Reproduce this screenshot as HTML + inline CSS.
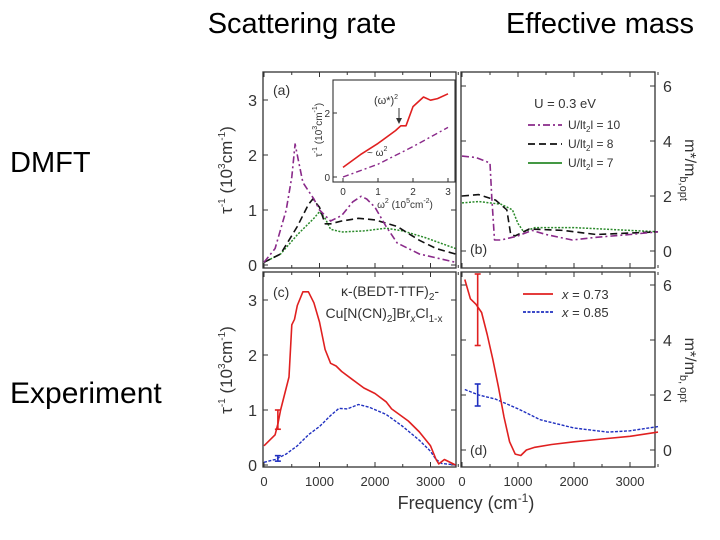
<!DOCTYPE html>
<html><head><meta charset="utf-8"><style>
body{margin:0;background:#fff;}
svg{display:block;font-family:"Liberation Sans",sans-serif;}
</style></head><body>
<svg width="720" height="540" viewBox="0 0 720 540">
<text x="302" y="33" font-size="29" text-anchor="middle">Scattering rate</text>
<text x="600" y="33" font-size="29" text-anchor="middle">Effective mass</text>
<text x="10" y="172" font-size="29">DMFT</text>
<text x="10" y="403" font-size="30">Experiment</text>
<g id="g"></g>
</svg>
<script>
// ---- data ----
const aPurpleX=[0,200,400,500,560,620,700,800,900,1000,1100,1200,1400,1600,1750,1850,2000,2200,2400,2800,3450];
const aPurpleY=[0.05,0.3,1.0,1.6,2.2,1.9,1.5,1.35,1.2,1.0,0.9,0.8,0.9,1.15,1.25,1.2,1.05,0.7,0.4,0.2,0.05];
const aBlackX=[0,300,600,800,880,1000,1100,1200,1400,1700,2000,2400,2800,3100,3450];
const aBlackY=[0.05,0.2,0.7,1.1,1.2,1.05,0.75,0.75,0.8,0.85,0.82,0.7,0.45,0.3,0.2];
const aGreenX=[0,300,600,900,1000,1100,1200,1400,1800,2200,2500,2900,3450];
const aGreenY=[0.05,0.2,0.55,0.85,0.97,0.85,0.65,0.6,0.62,0.67,0.62,0.5,0.3];
const bPurpleX=[0,250,500,530,580,700,1000,1250,1500,1970,2400,3000,3500];
const bPurpleY=[3.45,3.4,3.2,2.0,0.4,0.4,0.55,0.75,0.6,0.4,0.5,0.6,0.7];
const bBlackX=[0,300,600,800,870,950,1200,1800,2400,3500];
const bBlackY=[2.0,2.05,1.85,1.5,0.6,0.55,0.8,0.75,0.6,0.7];
const bGreenX=[0,300,700,900,1000,1100,1300,2000,3500];
const bGreenY=[1.75,1.8,1.7,1.5,1.0,0.7,0.85,0.85,0.7];
const cRedX=[0,200,250,300,400,450,500,550,600,700,800,900,1000,1100,1200,1300,1400,1600,1800,2000,2200,2300,2600,2800,3000,3100,3150,3250,3450];
const cRedY=[0.35,0.55,0.75,1.0,1.4,1.6,2.55,2.65,2.9,3.15,3.15,2.95,2.6,2.1,1.85,1.8,1.7,1.55,1.4,1.3,1.15,1.02,0.8,0.6,0.35,0.1,0.02,0.1,0.0];
const cBlueX=[0,200,400,600,800,1000,1200,1350,1500,1700,1900,2200,2500,2800,3000,3100,3200,3450];
const cBlueY=[0.05,0.1,0.2,0.35,0.55,0.7,0.9,1.03,1.02,1.1,1.05,0.92,0.7,0.45,0.25,0.1,0.03,0.0];
const dRedX=[50,150,250,350,450,550,650,750,850,950,1050,1150,1300,1600,2000,2500,3000,3500];
const dRedY=[6.2,5.5,5.3,5.0,4.2,3.3,2.3,1.2,0.3,-0.15,-0.2,0.0,0.1,0.2,0.3,0.4,0.5,0.65];
const dBlueX=[50,300,600,1000,1400,2000,2600,3000,3500];
const dBlueY=[2.2,2.0,1.85,1.5,1.1,0.8,0.65,0.7,0.85];
const insRedX=[0,0.5,1,1.5,1.65,1.8,2.0,2.3,2.5,2.7,3];
const insRedY=[0.3,0.7,1.05,1.45,1.6,1.6,2.2,2.5,2.4,2.45,2.6];
const insPurpleX=[0,1,2,3];
const insPurpleY=[0,0.4,0.95,1.55];
const freqTicks=[0,1000,2000,3000];
const tauTicks=[0,1,2,3];
const massTicks=[0,2,4,6];
// ---- helpers ----
const NS='http://www.w3.org/2000/svg';
const G=document.getElementById('g');
function el(t,a,p){const e=document.createElementNS(NS,t);for(const k in a)e.setAttribute(k,a[k]);(p||G).appendChild(e);return e;}
function lin(d0,d1,r0,r1){return v=>r0+(v-d0)/(d1-d0)*(r1-r0);}
const xL=lin(0,1000,264,319.5), xR=lin(0,1000,462,518);
const yA=lin(0,1,265,210), yB=lin(0,1,251,223.5), yC=lin(0,1,465,410), yD=lin(0,1,450,422.5);
function line(xs,ys,sx,sy,color,dash,w,name){
  const d=xs.map((x,i)=>(i?'L':'M')+sx(x).toFixed(1)+','+sy(ys[i]).toFixed(1)).join('');
  const p=el('path',{d:d,fill:'none',stroke:color,'stroke-width':w||1.6,'stroke-dasharray':dash||'none','stroke-linejoin':'round'});
  
  
}
function box(x0,y0,x1,y1,name){
  const r=el('rect',{x:x0,y:y0,width:x1-x0,height:y1-y0,fill:'none',stroke:'#333','stroke-width':1.3});
  
  
}
function txt(x,y,s,size,anchor,name,extra){
  const t=el('text',Object.assign({x:x,y:y,'font-size':size,'text-anchor':anchor||'start',fill:'#333'},extra||{}));
  t.innerHTML=s;
  
  
  return t;
}
function xt(sx,yb,yt,labels,ly){
  freqTicks.forEach(v=>{const x=sx(v);el('line',{x1:x,y1:yb,x2:x,y2:yb-5,stroke:'#333'});el('line',{x1:x,y1:yt,x2:x,y2:yt+5,stroke:'#333'});
    const xm=sx(v+500);el('line',{x1:xm,y1:yb,x2:xm,y2:yb-3,stroke:'#333'});el('line',{x1:xm,y1:yt,x2:xm,y2:yt+3,stroke:'#333'});
    if(labels)txt(x,ly,String(v),13,'middle','x-tick-label');});
}
function yt(sy,x0,x1,ticks,side,name){
  ticks.forEach(v=>{const y=sy(v);el('line',{x1:x0,y1:y,x2:x0+5,y2:y,stroke:'#333'});el('line',{x1:x1,y1:y,x2:x1-5,y2:y,stroke:'#333'});
    if(side==='l')txt(x0-6,y+6,String(v),16,'end',name);else txt(x1+8,y+6,String(v),16,'start',name);});
}
// ---- panels ----
box(263,72,456,268,'panel-a'); box(461,72,655,268,'panel-b');
box(263,272,456,467,'panel-c'); box(461,272,655,467,'panel-d');
xt(xL,268,72,false); xt(xR,268,72,false); xt(xL,467,272,true,486); xt(xR,467,272,true,486);
yt(yA,263,456,tauTicks,'l','y-tick-a'); yt(yB,461,655,massTicks,'r','y-tick-b');
yt(yC,263,456,tauTicks,'l','y-tick-c'); yt(yD,461,655,massTicks,'r','y-tick-d');
// labels
txt(232,170,'τ<tspan dy="-7" font-size="10">-1</tspan><tspan dy="7"> (10</tspan><tspan dy="-7" font-size="10">3</tspan><tspan dy="7">cm</tspan><tspan dy="-7" font-size="10">-1</tspan><tspan dy="7">)</tspan>',17,'middle','y-axis-title-top',{transform:'rotate(-90 232 170)'});
txt(232,370,'τ<tspan dy="-7" font-size="10">-1</tspan><tspan dy="7"> (10</tspan><tspan dy="-7" font-size="10">3</tspan><tspan dy="7">cm</tspan><tspan dy="-7" font-size="10">-1</tspan><tspan dy="7">)</tspan>',17,'middle','y-axis-title-bottom',{transform:'rotate(-90 232 370)'});
txt(685,170,'m*/m<tspan dy="5" font-size="11">b,opt</tspan>',16,'middle','y2-axis-title-top',{transform:'rotate(90 685 170)'});
txt(685,370,'m*/m<tspan dy="5" font-size="11">b, opt</tspan>',16,'middle','y2-axis-title-bottom',{transform:'rotate(90 685 370)'});
txt(466,509,'Frequency (cm<tspan dy="-7" font-size="12">-1</tspan><tspan dy="7">)</tspan>',18,'middle','x-axis-title');
txt(273,95,'(a)',14,'start','panel-a-label'); txt(470,254,'(b)',14,'start','panel-b-label');
txt(273,297,'(c)',14,'start','panel-c-label'); txt(470,455,'(d)',14,'start','panel-d-label');
// series
line(aGreenX,aGreenY,xL,yA,'#2a8a2a','2,1.5',1.5,'green-u7-a');
line(aBlackX,aBlackY,xL,yA,'#111','7,4',1.6,'black-u8-a');
line(aPurpleX,aPurpleY,xL,yA,'#8a2a8a','7,3,2,3',1.6,'purple-u10-a');
line(bGreenX,bGreenY,xR,yB,'#2a8a2a','2,1.5',1.5,'green-u7-b');
line(bBlackX,bBlackY,xR,yB,'#111','7,4',1.6,'black-u8-b');
line(bPurpleX,bPurpleY,xR,yB,'#8a2a8a','7,3,2,3',1.6,'purple-u10-b');
line(cBlueX,cBlueY,xL,yC,'#2030c0','3,1.5',1.4,'blue-x085-c');
line(cRedX,cRedY,xL,yC,'#e02020','',1.6,'red-x073-c');
line(dBlueX,dBlueY,xR,yD,'#2030c0','3,1.5',1.4,'blue-x085-d');
line(dRedX,dRedY,xR,yD,'#e02020','',1.6,'red-x073-d');
// error bars
function eb(sx,sy,x,lo,hi,c,name){const X=sx(x);const g=el('g',{stroke:c,'stroke-width':1.6});
  el('line',{x1:X,y1:sy(lo),x2:X,y2:sy(hi)},g);el('line',{x1:X-3,y1:sy(lo),x2:X+3,y2:sy(lo)},g);el('line',{x1:X-3,y1:sy(hi),x2:X+3,y2:sy(hi)},g);
  }
eb(xL,yC,250,0.65,1.0,'#e02020','error-bar-red-c'); eb(xL,yC,250,0.07,0.17,'#2030c0','error-bar-blue-c');
eb(xR,yD,280,3.8,6.4,'#e02020','error-bar-red-d'); eb(xR,yD,280,1.6,2.4,'#2030c0','error-bar-blue-d');
// legend (b)
txt(565,108,'U = 0.3 eV',13,'middle','legend-title');
[['#8a2a8a','7,3,2,3','U/lt<tspan dy="3" font-size="8">2</tspan><tspan dy="-3">l = 10</tspan>'],['#111','7,4','U/lt<tspan dy="3" font-size="8">2</tspan><tspan dy="-3">l = 8</tspan>'],['#2a8a2a','','U/lt<tspan dy="3" font-size="8">2</tspan><tspan dy="-3">l = 7</tspan>']].forEach((s,i)=>{
  const y=125+i*19; const l=el('line',{x1:528,y1:y,x2:562,y2:y,stroke:s[0],'stroke-width':1.8,'stroke-dasharray':s[1]||'none'});
  
  txt(568,y+4,s[2],12,'start','legend-entry');});
// legend (d)
[['#e02020','','x = 0.73'],['#2030c0','3,1.5','x = 0.85']].forEach((s,i)=>{
  const y=294+i*18; const l=el('line',{x1:523,y1:y,x2:553,y2:y,stroke:s[0],'stroke-width':1.8,'stroke-dasharray':s[1]||'none'});
  
  txt(562,y+5,'<tspan font-style="italic">x</tspan>'+s[2].slice(1),13,'start','legend-entry-d');});
txt(390,296,'κ-(BEDT-TTF)<tspan dy="4" font-size="10">2</tspan><tspan dy="-4">-</tspan>',14,'middle','compound-label-1');
txt(384,318,'Cu[N(CN)<tspan dy="4" font-size="10">2</tspan><tspan dy="-4">]Br</tspan><tspan dy="4" font-size="10" font-style="italic">x</tspan><tspan dy="-4">Cl</tspan><tspan dy="4" font-size="10">1-x</tspan>',14,'middle','compound-label-2');
// inset
const ix=lin(0,3,343,448), iy=lin(0,2,177,113);
const ir=el('rect',{x:333,y:80,width:122,height:102,fill:'#fff',stroke:'#333','stroke-width':1.1});

[0,1,2,3].forEach(v=>{el('line',{x1:ix(v),y1:182,x2:ix(v),y2:178,stroke:'#333'});txt(ix(v),195,String(v),10,'middle','inset-x-tick');});
[0,2].forEach(v=>{el('line',{x1:333,y1:iy(v),x2:337,y2:iy(v),stroke:'#333'});txt(330,iy(v)+4,String(v),10,'end','inset-y-tick');});
line(insPurpleX,insPurpleY,ix,iy,'#8a2a8a','6,3,2,3',1.4,'inset-purple');
line(insRedX,insRedY,ix,iy,'#e02020','',1.6,'inset-red');
txt(322,130,'τ<tspan dy="-5" font-size="7">-1</tspan><tspan dy="5"> (10</tspan><tspan dy="-5" font-size="7">3</tspan><tspan dy="5">cm</tspan><tspan dy="-5" font-size="7">-1</tspan><tspan dy="5">)</tspan>',10,'middle','inset-y-title',{transform:'rotate(-90 322 130)'});
txt(405,208,'ω<tspan dy="-5" font-size="7">2</tspan><tspan dy="5"> (10</tspan><tspan dy="-5" font-size="7">5</tspan><tspan dy="5">cm</tspan><tspan dy="-5" font-size="7">-2</tspan><tspan dy="5">)</tspan>',10,'middle','inset-x-title');
txt(386,104,'(ω*)<tspan dy="-5" font-size="7">2</tspan>',11,'middle','omega-star-label');
el('line',{x1:399,y1:108,x2:399,y2:120,stroke:'#333'});el('path',{d:'M396,118 L399,124 L402,118 Z',fill:'#333'});
txt(367,156,'~ ω<tspan dy="-5" font-size="7">2</tspan>',10,'start','omega-squared-label');
</script>
</body></html>
